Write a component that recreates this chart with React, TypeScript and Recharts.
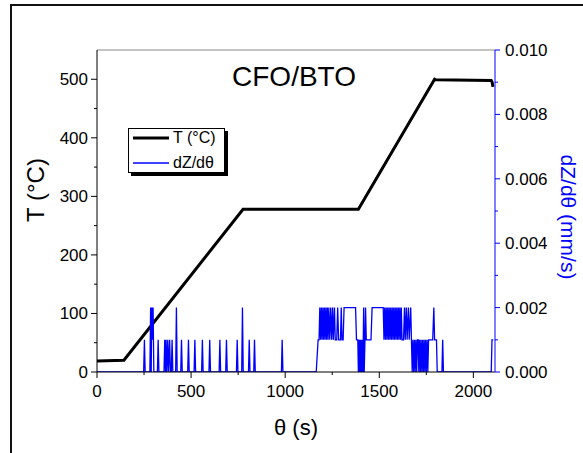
import { LineChart, Line, XAxis, YAxis, ReferenceLine, Legend, Customized } from 'recharts';

// temperature program, T (°C) vs θ (s)
const tempPoints: [number, number][] = [
  [0, 19], [143, 20], [776, 278], [1389, 278], [1794, 500], [1800, 499],
  [2095, 498], [2100, 495], [2104, 487],
];

// dZ/dθ (mm/s) vs θ (s)
const ratePoints: [number, number][] = [
  [0, 0], [248, 0], [252, 0.001], [256, 0],
  [281, 0], [285, 0.002], [288, 0], [291, 0.002], [294, 0.001], [298, 0.002], [302, 0],
  [321, 0], [325, 0.001], [329, 0],
  [356, 0], [360, 0.001], [364, 0], [367, 0.001], [371, 0], [376, 0.001], [380, 0], [386, 0.001], [390, 0],
  [395, 0], [399, 0.001], [403, 0],
  [418, 0], [422, 0.002], [426, 0],
  [445, 0], [449, 0.001], [453, 0],
  [482, 0], [486, 0.001], [490, 0],
  [516, 0], [520, 0.001], [524, 0],
  [556, 0], [560, 0.001], [564, 0],
  [595, 0], [599, 0.001], [603, 0],
  [649, 0], [653, 0.001], [657, 0],
  [684, 0], [688, 0.001], [692, 0],
  [741, 0], [745, 0.001], [749, 0],
  [769, 0], [773, 0.002], [777, 0],
  [805, 0], [809, 0.001], [813, 0],
  [833, 0], [837, 0.001], [841, 0],
  [980, 0], [984, 0.001], [988, 0],
  [1165, 0], [1175, 0.001], [1180, 0.001], [1184, 0.002], [1188, 0.001], [1192, 0.002], [1196, 0.001],
  [1200, 0.002], [1204, 0.001], [1208, 0.002], [1212, 0.001], [1216, 0.002], [1220, 0.001], [1224, 0.002],
  [1228, 0.001], [1232, 0.002], [1237, 0.001], [1242, 0.002], [1247, 0.001], [1252, 0.002], [1256, 0.001],
  [1262, 0.002], [1266, 0.001], [1274, 0.001], [1279, 0.002], [1284, 0.001], [1294, 0.001], [1298, 0.002],
  [1302, 0.001], [1308, 0.001], [1313, 0.002], [1374, 0.002], [1379, 0.001], [1386, 0.001], [1389, 0],
  [1392, 0.001], [1395, 0], [1398, 0.001], [1401, 0], [1404, 0.001], [1407, 0], [1410, 0.001], [1413, 0],
  [1417, 0.002], [1420, 0], [1424, 0.001], [1427, 0.002], [1431, 0.001], [1456, 0.001], [1462, 0.002],
  [1521, 0.002], [1525, 0.001], [1529, 0.002], [1533, 0.001], [1537, 0.002], [1541, 0.001], [1545, 0.002],
  [1549, 0.001], [1553, 0.002], [1557, 0.001], [1561, 0.002], [1565, 0.001], [1569, 0.002], [1573, 0.001],
  [1577, 0.002], [1581, 0.001], [1585, 0.002], [1589, 0.001], [1593, 0.002], [1597, 0.001], [1601, 0.002],
  [1605, 0.001], [1609, 0.002], [1613, 0.001], [1617, 0.002], [1621, 0.001], [1629, 0.001], [1634, 0.002],
  [1638, 0.001], [1644, 0.002], [1648, 0.001], [1655, 0.002], [1659, 0.001], [1667, 0.002], [1671, 0.001],
  [1675, 0], [1679, 0.001], [1683, 0], [1687, 0.001], [1691, 0], [1695, 0.001], [1699, 0], [1703, 0.001],
  [1707, 0.001], [1710, 0], [1714, 0.001], [1718, 0], [1722, 0.001], [1726, 0], [1730, 0.001], [1734, 0],
  [1738, 0.001], [1742, 0], [1746, 0.001], [1750, 0], [1754, 0.001], [1758, 0], [1762, 0.001], [1776, 0.001],
  [1784, 0.001], [1790, 0.002], [1794, 0.001], [1804, 0.001], [1808, 0],
  [1833, 0], [1837, 0.001], [1841, 0],
  [2095, 0], [2099, 0.001], [2106, 0.001],
];

const xTicks = [0, 250, 500, 750, 1000, 1250, 1500, 1750, 2000];
const tTicks = [0, 50, 100, 150, 200, 250, 300, 350, 400, 450, 500];
const rateTicks = [0, 0.001, 0.002, 0.003, 0.004, 0.005, 0.006, 0.007, 0.008, 0.009, 0.01];

const tempData = tempPoints.map(([t, T]) => ({ t, T }));
const rateData = ratePoints.map(([t, r]) => ({ t, r }));

const FONT = '"Liberation Sans", Arial, sans-serif';
const BLUE = '#0000ff';
const PLOT = { left: 97, right: 495, top: 50, bottom: 372 };

const XTick = ({ x, payload }: any) => {
  const major = payload.value % 500 === 0;
  return (
    <g>
      <line x1={x} x2={x} y1={PLOT.bottom} y2={PLOT.bottom + (major ? 6 : 3)} stroke="#000" />
      {major && (
        <text x={x} y={PLOT.bottom + 13} dy="0.71em" textAnchor="middle" fontSize={17} fontFamily={FONT} fill="#000">
          {payload.value}
        </text>
      )}
    </g>
  );
};

const LeftTick = ({ y, payload }: any) => {
  const major = payload.value % 100 === 0;
  return (
    <g>
      <line x1={PLOT.left} x2={PLOT.left - (major ? 6 : 3)} y1={y} y2={y} stroke="#000" />
      {major && (
        <text x={PLOT.left - 9} y={y} dy="0.355em" textAnchor="end" fontSize={17} fontFamily={FONT} fill="#000">
          {payload.value}
        </text>
      )}
    </g>
  );
};

const RightTick = ({ y, payload }: any) => {
  const major = Math.round(payload.value * 1000) % 2 === 0;
  return (
    <g>
      <line x1={PLOT.right} x2={PLOT.right + (major ? 5 : 3)} y1={y} y2={y} stroke={BLUE} />
      {major && (
        <text x={PLOT.right + 10} y={y} dy="0.355em" textAnchor="start" fontSize={17} fontFamily={FONT} fill="#000">
          {payload.value.toFixed(3)}
        </text>
      )}
    </g>
  );
};

const Titles = () => (
  <g fontFamily={FONT}>
    <text x={294} y={86} textAnchor="middle" fontSize={28} fill="#000">CFO/BTO</text>
    <text x={296} y={435} textAnchor="middle" fontSize={22} fill="#000">θ (s)</text>
    <text x={36} y={190} dy="0.35em" textAnchor="middle" fontSize={24} fill="#000" transform="rotate(-90 36 190)">
      T (°C)
    </text>
    <text x={568} y={217} dy="0.35em" textAnchor="middle" fontSize={21} fill={BLUE} transform="rotate(90 568 217)">
      dZ/dθ (mm/s)
    </text>
  </g>
);

const LegendBox = () => (
  <div
    style={{
      position: 'relative',
      width: 97,
      height: 45,
      boxSizing: 'border-box',
      border: '1px solid #000',
      background: '#fff',
      boxShadow: '3px 3px 0 #000',
      fontFamily: FONT,
      fontSize: 16,
      color: '#000',
    }}
  >
    {[
      { label: 'T (°C)', color: '#000', w: 3, top: -1 },
      { label: 'dZ/dθ', color: BLUE, w: 1.5, top: 24 },
    ].map((e) => (
      <div key={e.label} style={{ position: 'absolute', left: 4, top: e.top, height: 20, display: 'flex', alignItems: 'center' }}>
        <svg width={36} height={6} style={{ display: 'block' }}>
          <line x1={0} x2={36} y1={3} y2={3} stroke={e.color} strokeWidth={e.w} />
        </svg>
        <span style={{ marginLeft: 4, whiteSpace: 'nowrap', lineHeight: '20px' }}>{e.label}</span>
      </div>
    ))}
  </div>
);

export default function App() {
  return (
    <div style={{ position: 'absolute', left: 0, top: 0, width: 583, height: 453, overflow: 'hidden', background: '#fff' }}>
      <div
        style={{ position: 'absolute', left: 10, top: 4, width: 700, height: 600, border: '2px solid #111' }}
      />
      <LineChart width={583} height={453} margin={{ top: 50, right: 28, bottom: 41, left: 0 }}>
        <XAxis
          type="number"
          dataKey="t"
          domain={[0, 2115]}
          ticks={xTicks}
          tick={<XTick />}
          tickLine={false}
          tickSize={6}
          tickMargin={7}
          height={40}
          axisLine={{ stroke: '#000' }}
          allowDataOverflow
        />
        <YAxis
          yAxisId="left"
          orientation="left"
          type="number"
          domain={[0, 550]}
          ticks={tTicks}
          tick={<LeftTick />}
          tickLine={false}
          width={97}
          axisLine={{ stroke: '#000' }}
          allowDataOverflow
        />
        <YAxis
          yAxisId="right"
          orientation="right"
          type="number"
          domain={[0, 0.01]}
          ticks={rateTicks}
          tick={<RightTick />}
          tickLine={false}
          width={60}
          axisLine={{ stroke: BLUE }}
          allowDataOverflow
        />
        <ReferenceLine yAxisId="left" y={550} stroke="#888" />
        <Line
          yAxisId="left"
          data={tempData}
          dataKey="T"
          name="T (°C)"
          type="linear"
          stroke="#000"
          strokeWidth={3}
          dot={false}
          isAnimationActive={false}
        />
        <Line
          yAxisId="right"
          data={rateData}
          dataKey="r"
          name="dZ/dθ"
          type="linear"
          stroke={BLUE}
          strokeWidth={1.3}
          dot={false}
          isAnimationActive={false}
        />
        <Legend
          layout="horizontal"
          verticalAlign="middle"
          align="center"
          content={<LegendBox />}
          wrapperStyle={{ left: 128, top: 128, width: 100, height: 48 }}
        />
        <Customized component={<Titles />} />
      </LineChart>
    </div>
  );
}
